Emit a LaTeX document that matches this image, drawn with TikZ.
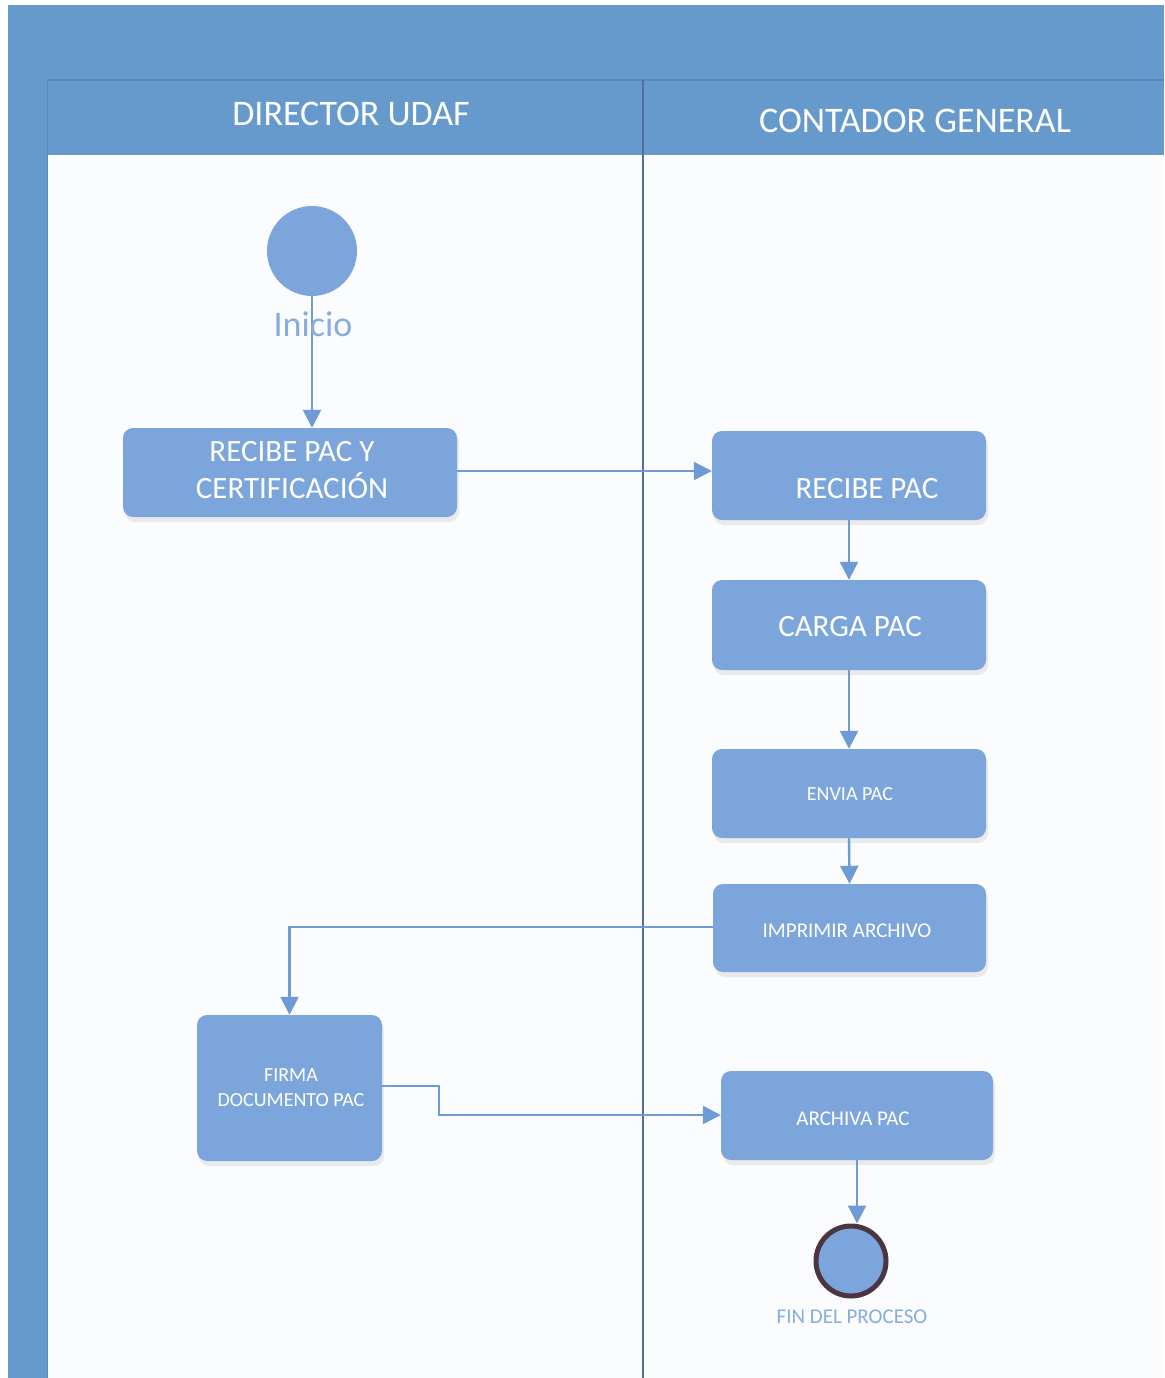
\documentclass[tikz,border=0pt]{standalone}
\usepackage{fontspec}
\setmainfont{Carlito}
\usetikzlibrary{arrows.meta,shadows}
\definecolor{band}{HTML}{6699CC}
\definecolor{bandline}{HTML}{5A86BC}
\definecolor{boxfill}{HTML}{7CA6DB}
\definecolor{arrowc}{HTML}{6E9BD6}
\definecolor{divider}{HTML}{4F6FA0}
\definecolor{paper}{HTML}{FBFCFE}
\definecolor{ring}{HTML}{4A3540}
\definecolor{lbl}{HTML}{86ACE0}
\tikzset{
  actbox/.style={draw=none, fill=boxfill, rounded corners=10pt, inner sep=0pt,
    drop shadow={shadow xshift=2pt, shadow yshift=-5pt, opacity=0.18, fill=black!40}},
  boxtext/.style={text=white, align=center, inner sep=0pt},
  flow/.style={draw=arrowc, line width=2.4pt, -{Triangle[width=18pt,length=18pt]}},
  hdr/.style={text=white, inner sep=0pt, font=\fontsize{36}{40}\selectfont}
}
\begin{document}
\begin{tikzpicture}[x=1pt,y=-1pt]
\useasboundingbox (0,0) rectangle (1164,1378);
\fill[white] (0,0) rectangle (1164,1378);
% pool and lanes
\fill[paper] (47,155) rectangle (1164,1378);
\fill[band] (8,5) rectangle (1164,155);
\fill[band] (8,5) rectangle (47,1378);
\draw[bandline, line width=1.5pt] (47,80) -- (1164,80);
\draw[bandline, line width=1pt] (47,80) -- (47,1378);
\draw[divider, line width=2pt] (643,80) -- (643,1378);
\node[hdr] (h1) at (351,114) {DIRECTOR UDAF};
\node[hdr] (h2) at (915,121) {CONTADOR GENERAL};
% start
\node[circle, fill=boxfill, minimum size=90pt, inner sep=0pt] (start) at (312,251) {};
% boxes
\node[actbox, minimum width=334pt, minimum height=89pt] (b1) at (290,472.5) {};
\node[boxtext, font=\fontsize{31}{37}\selectfont] (t1) at (292,470) {RECIBE PAC Y\\CERTIFICACIÓN};
\node[actbox, minimum width=274pt, minimum height=89pt] (b2) at (849,475.5) {};
\node[boxtext, font=\fontsize{31}{37}\selectfont] (t2) at (867,489) {RECIBE PAC};
\node[actbox, minimum width=274pt, minimum height=90pt] (b3) at (849,625) {};
\node[boxtext, font=\fontsize{31}{37}\selectfont] (t3) at (850,627) {CARGA PAC};
\node[actbox, minimum width=274pt, minimum height=89pt] (b4) at (849,793.5) {};
\node[boxtext, font=\fontsize{20}{24}\selectfont] (t4) at (850,794) {ENVIA PAC};
\node[actbox, minimum width=273pt, minimum height=88pt] (b5) at (849.5,928) {};
\node[boxtext, font=\fontsize{21}{25}\selectfont] (t5) at (847,931) {IMPRIMIR ARCHIVO};
\node[actbox, minimum width=185pt, minimum height=146pt] (b6) at (289.5,1088) {};
\node[boxtext, font=\fontsize{20}{25}\selectfont] (t6) at (291,1088) {FIRMA\\DOCUMENTO PAC};
\node[actbox, minimum width=272pt, minimum height=89pt] (b7) at (857,1115.5) {};
\node[boxtext, font=\fontsize{21}{25}\selectfont] (t7) at (853,1119) {ARCHIVA PAC};
% end
\node[circle, draw=ring, line width=5pt, fill=boxfill, minimum size=70pt, inner sep=0pt] (end) at (851,1261) {};
\node[text=lbl, font=\fontsize{21}{25}\selectfont, inner sep=0pt] (endl) at (852,1317) {FIN DEL PROCESO};
% connectors
\draw[flow] (start.south) -- (b1.north -| start.south);
\node[text=lbl, font=\fontsize{36}{40}\selectfont, inner sep=0pt] (inicio) at (313,324) {Inicio};
\draw[flow] (b1.east |- 0,471) -- (b2.west |- 0,471);
\draw[flow] (b2.south) -- (b3.north);
\draw[flow] (b3.south) -- (b4.north);
\draw[flow] (b4.south) -- (b5.north);
\draw[flow] (b5.west |- 0,927) -| (b6.north);
\draw[flow] (b6.east |- 0,1086) -- (439,1086) -- (439,1115) -- (b7.west |- 0,1115);
\draw[flow] (b7.south) -- (b7.south |- end.north);
\end{tikzpicture}
\end{document}
